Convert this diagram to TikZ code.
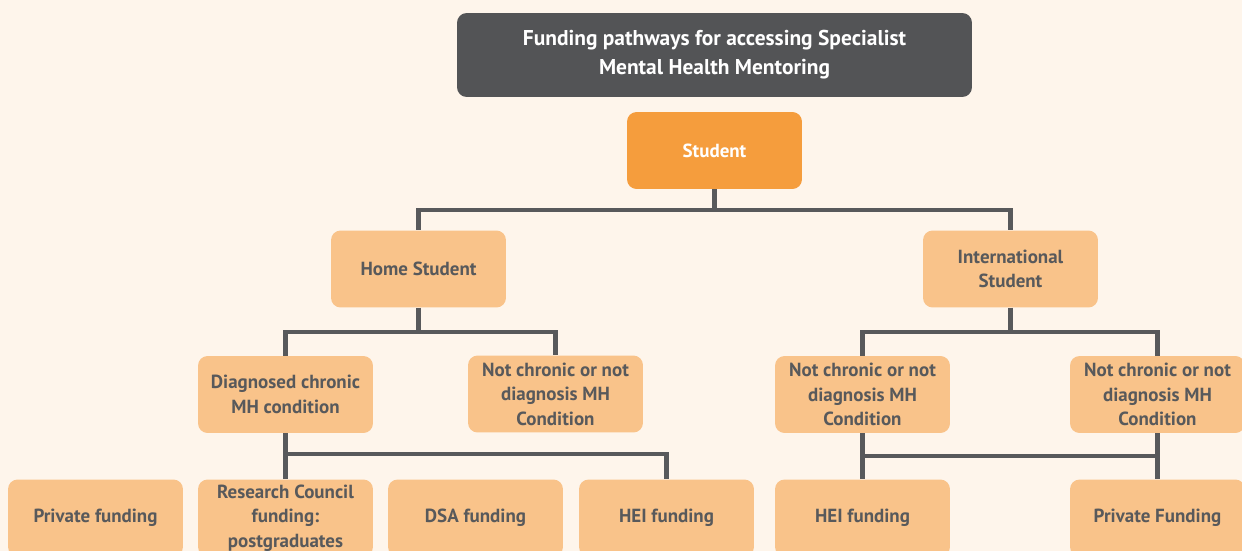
\documentclass[tikz,border=0pt]{standalone}
\usepackage{fontspec}
\setmainfont{PT Sans}
\usetikzlibrary{calc}
\definecolor{paper}{HTML}{FEF5EB}
\definecolor{inkgray}{HTML}{58595B}
\definecolor{titlegray}{HTML}{535456}
\definecolor{studentorange}{HTML}{F59D3D}
\definecolor{leaforange}{HTML}{F9C38A}
\tikzset{
  box/.style={rounded corners=5.5pt, align=center, inner sep=0pt, minimum width=3.5cm, minimum height=1.54cm},
  leaf/.style={box, fill=leaforange, text=inkgray, font=\bfseries\fontsize{10.8}{14}\selectfont},
  link/.style={draw=inkgray, line width=2.3pt}
}
\begin{document}
\begin{tikzpicture}[x=0.02cm, y=-0.02cm]
    \fill[paper] (0,0) rectangle (1242,551);
    \clip (0,0) rectangle (1242,551);
    % heading and root
    \node[box, fill=titlegray, text=white, minimum width=10.3cm, minimum height=1.68cm, font=\bfseries\fontsize{12.2}{16.5}\selectfont] (title) at (714.5,55) {Funding pathways for accessing Specialist\\Mental Health Mentoring};
    \node[box, fill=studentorange, text=white, font=\bfseries\fontsize{10.8}{14}\selectfont] (student) at (714.5,150.5) {Student};
    % second and third rows
    \node[leaf] (home) at (418.5,269) {Home Student};
    \node[leaf] (intl) at (1010.5,269) {International\\Student};
    \node[leaf] (diag) at (285.5,394.5) {Diagnosed chronic\\MH condition};
    \node[leaf] (homenot) at (555.5,394) {Not chronic or not\\diagnosis MH\\Condition};
    \node[leaf] (intlnot) at (862.5,394.5) {Not chronic or not\\diagnosis MH\\Condition};
    \node[leaf] (intlnotb) at (1157.5,394.5) {Not chronic or not\\diagnosis MH\\Condition};
    % funding row
    \node[leaf] (private) at (95.5,518) {Private funding};
    \node[leaf] (research) at (285.5,518) {Research Council\\funding:\\postgraduates};
    \node[leaf] (dsa) at (475.5,518) {DSA funding};
    \node[leaf] (hei) at (666.5,518) {HEI funding};
    \node[leaf] (intlhei) at (862.5,518) {HEI funding};
    \node[leaf] (intlprivate) at (1157.5,518) {Private Funding};
    % connectors
    \draw[link] (student.south) -- ++(0,21) -| (home.north);
    \draw[link] (student.south) -- ++(0,21) -| (intl.north);
    \draw[link] (home.south) -- ++(0,24) -| (diag.north);
    \draw[link] (home.south) -- ++(0,24) -| (homenot.north);
    \draw[link] (intl.south) -- ++(0,24) -| (intlnot.north);
    \draw[link] (intl.south) -- ++(0,24) -| (intlnotb.north);
    \draw[link] (diag.south) -- (research.north);
    \draw[link] (diag.south) -- ++(0,21) -| (hei.north);
    \draw[link] (intlnot.south) -- (intlhei.north);
    \draw[link] (intlnotb.south) -- (intlprivate.north);
    \draw[link] ($(intlnot.south)!0.5!(intlhei.north)$) -- ($(intlnotb.south)!0.5!(intlprivate.north)$);
\end{tikzpicture}
\end{document}
